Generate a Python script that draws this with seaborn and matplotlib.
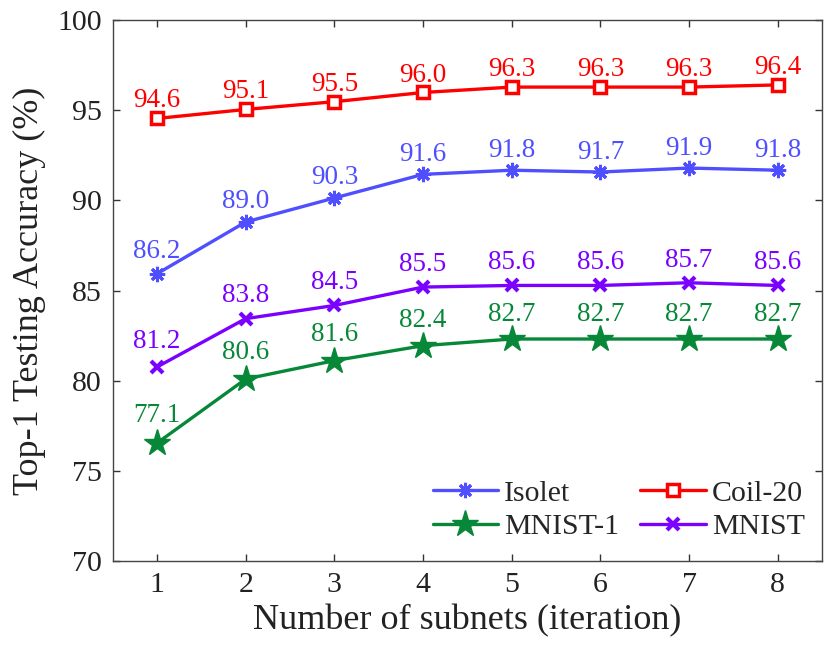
import matplotlib
matplotlib.use("Agg")
import matplotlib.pyplot as plt
import seaborn as sns
import pandas as pd
from matplotlib.lines import Line2D

# ---- data ----
subnets = [1, 2, 3, 4, 5, 6, 7, 8]
isolet_vals = [85.93, 88.80, 90.13, 91.44, 91.67, 91.57, 91.79, 91.67]
isolet_labels = [86.2, 89.0, 90.3, 91.6, 91.8, 91.7, 91.9, 91.8]
coil_vals = [94.54, 95.04, 95.47, 95.98, 96.28, 96.28, 96.28, 96.40]
coil_labels = [94.6, 95.1, 95.5, 96.0, 96.3, 96.3, 96.3, 96.4]
mnist1_vals = [76.54, 80.09, 81.11, 81.94, 82.31, 82.31, 82.31, 82.31]
mnist1_labels = [77.1, 80.6, 81.6, 82.4, 82.7, 82.7, 82.7, 82.7]
mnist_vals = [80.76, 83.44, 84.17, 85.19, 85.28, 85.28, 85.43, 85.28]
mnist_labels = [81.2, 83.8, 84.5, 85.5, 85.6, 85.6, 85.7, 85.6]
y_ticks = [70, 75, 80, 85, 90, 95, 100]

sns.set_theme(style="ticks")
plt.rcParams['font.family'] = ['Liberation Serif', 'DejaVu Serif']
plt.rcParams['mathtext.fontset'] = 'stix'

fig = plt.figure(figsize=(8.24, 6.53), dpi=100)
ax = fig.add_axes([112.7/824, (653-561)/653, (822-112.7)/824, (561-20)/653])

series = [
    ("Isolet", isolet_vals, isolet_labels, "#4F4FFF", dict(marker=(8, 2, 0), markersize=11, markeredgewidth=2.2, markerfacecolor="#4F4FFF")),
    ("Coil-20", coil_vals, coil_labels, "#FF0000", dict(marker="s", markersize=9, markeredgewidth=2.5, markerfacecolor="white")),
    ("MNIST-1", mnist1_vals, mnist1_labels, "#078838", dict(marker="*", markersize=20, markeredgewidth=1.0, markerfacecolor="#078838")),
    ("MNIST", mnist_vals, mnist_labels, "#7A00FF", dict(marker="x", markersize=8, markeredgewidth=3.0)),
]

handles = {}
for name, vals, labels, color, mk in series:
    df = pd.DataFrame({"x": subnets, "y": vals})
    sns.lineplot(data=df, x="x", y="y", ax=ax, color=color, linewidth=2.4,
                 markeredgecolor=color, legend=False, zorder=3, **mk)
    for xv, yv, lab in zip(subnets, vals, labels):
        ax.text(xv, lab + 0.95, f"{lab:.1f}", color=color, fontsize=19.5,
                ha="center", va="center", zorder=4)
    handles[name] = Line2D([], [], color=color, linewidth=2.4, markeredgecolor=color, **mk)

order = ["Isolet", "MNIST-1", "Coil-20", "MNIST"]
ax.legend([handles[n] for n in order], order, ncol=2, frameon=False,
          fontsize=21.5, loc="lower right", bbox_to_anchor=(1.005, 0.0),
          borderaxespad=0.3, handlelength=2.2, columnspacing=0.7,
          handletextpad=0.2, labelspacing=0.22)

ax.set_xlim(0.5, 8.5)
ax.set_ylim(70, 100)
ax.set_xticks(subnets)
ax.set_yticks(y_ticks)
ax.tick_params(direction="in", length=5, width=1, top=True, right=True,
               labelsize=21.5, colors="#333333", labelcolor="#222222", pad=8)
for s in ax.spines.values():
    s.set_color("#444444")
    s.set_linewidth(1.0)
ax.set_xlabel("Number of subnets (iteration)", fontsize=26, color="#222222", labelpad=4)
ax.set_ylabel("Top-1 Testing Accuracy (%)", fontsize=26, color="#222222", labelpad=8)

fig.savefig("out.png", dpi=100)
